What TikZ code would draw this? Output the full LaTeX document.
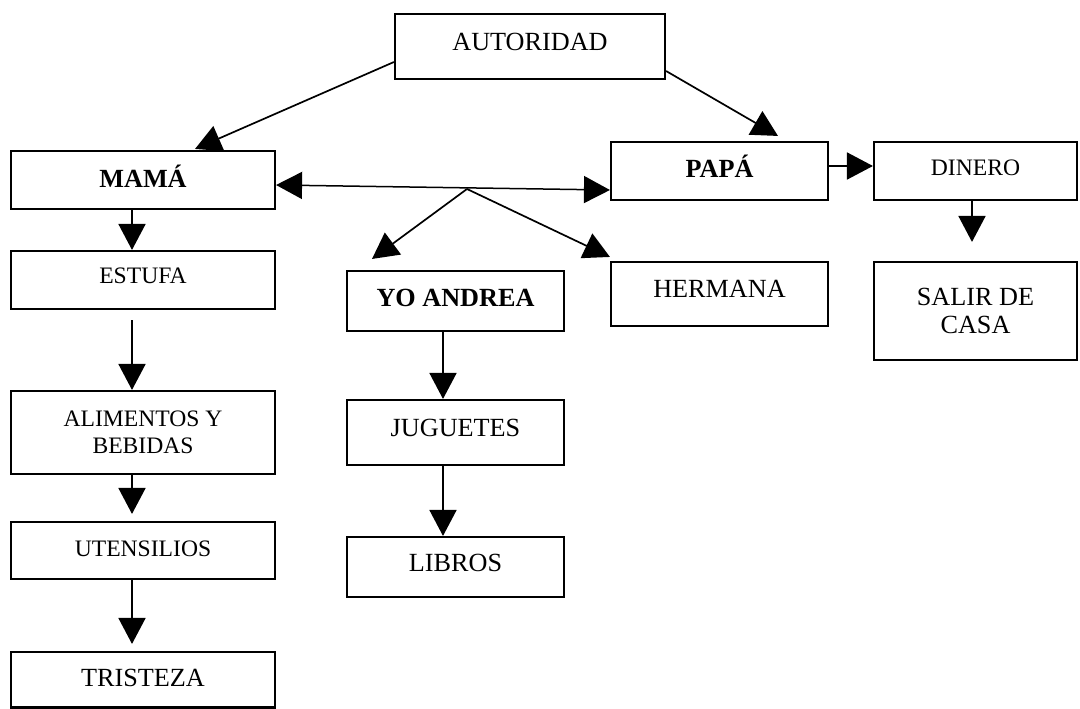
\documentclass[tikz,border=0pt]{standalone}
\usepackage{fontspec}
\setmainfont{Liberation Serif}
\usetikzlibrary{arrows.meta}
\tikzset{
  box/.style={draw, line width=2.1pt, inner sep=0pt},
  big/.style={font=\fontsize{26.2}{28.5}\selectfont},
  bigb/.style={font=\fontsize{26.2}{28.5}\selectfont\bfseries},
  small/.style={font=\fontsize{23.6}{27}\selectfont},
  lift/.style={text height=#1, text depth=10pt},
  arr/.style={line width=1.7pt, -{Triangle[length=26pt,width=27pt]}},
  dbl/.style={line width=1.5pt, {Triangle[length=26pt,width=27pt]}-{Triangle[length=26pt,width=27pt]}},
  wideL/.style={minimum width=264pt},
  wideM/.style={minimum width=217pt},
  wideR/.style={minimum width=203pt}
}
\begin{document}
\begin{tikzpicture}[x=1pt,y=-1pt]
\useasboundingbox (0,0) rectangle (1080,709);

% nodes
\node[box,big,lift=17.3pt,minimum width=270pt,minimum height=65pt] (aut) at (530,46.5) {AUTORIDAD};
\node[box,bigb,lift=25.3pt,wideL,minimum height=58pt] (mama) at (143,180) {MAMÁ};
\node[box,bigb,lift=23.3pt,wideM,minimum height=58pt] (papa) at (719.5,171) {PAPÁ};
\node[box,small,lift=18.6pt,wideR,minimum height=58pt] (dinero) at (975.5,171) {DINERO};
\node[box,small,lift=16.6pt,wideL,minimum height=58pt] (estufa) at (143,280) {ESTUFA};
\node[box,bigb,lift=20.3pt,wideM,minimum height=60pt] (yo) at (455.5,301) {YO ANDREA};
\node[box,big,lift=17.3pt,wideM,minimum height=64pt] (hermana) at (719.5,294) {HERMANA};
\node[box,big,align=center,wideR,minimum height=98pt] (salir) at (975.5,311) {SALIR DE\\[-1pt]CASA};
\node[box,small,align=center,wideL,minimum height=83pt] (alim) at (143,432.5) {ALIMENTOS Y\\BEBIDAS};
\node[box,big,lift=17.3pt,wideM,minimum height=65pt] (jug) at (455.5,432.5) {JUGUETES};
\node[box,small,lift=21.6pt,wideL,minimum height=57pt] (uten) at (143,550.5) {UTENSILIOS};
\node[box,big,lift=18.3pt,wideM,minimum height=60pt] (libros) at (455.5,567) {LIBROS};
\node[box,big,lift=22.8pt,wideL,minimum height=55.5pt] (tris) at (143,679.75) {TRISTEZA};

% connectors
\draw[arr] ([yshift=-15.5pt]aut.west) -- ([xshift=52pt,yshift=1pt]mama.north);
\draw[arr] ([yshift=-24.5pt]aut.east) -- ([xshift=58.5pt,yshift=5pt]papa.north);
\draw[dbl] ([yshift=-5pt]mama.east) -- ([yshift=-19pt]papa.west);
\coordinate (br) at (467,189);
\draw[arr] (br) -- ([xshift=-83.5pt,yshift=11pt]yo.north);
\draw[arr] (br) -- ([yshift=4pt]hermana.north west);
\draw[arr] ([yshift=5pt]papa.east) -- ([yshift=5pt]dinero.west);
\draw[arr] ([xshift=-3.5pt]dinero.south) -- ([xshift=-3.5pt,yshift=19pt]salir.north);
\draw[arr] ([xshift=-11pt]mama.south) -- ([xshift=-11pt]estufa.north);
\draw[arr, shorten <=10pt] ([xshift=-11pt]estufa.south) -- ([xshift=-11pt]alim.north);
\draw[arr] ([xshift=-11pt]alim.south) -- ([xshift=-11pt,yshift=7pt]uten.north);
\draw[arr] ([xshift=-11pt]uten.south) -- ([xshift=-11pt,yshift=7pt]tris.north);
\draw[arr] ([xshift=-12.5pt]yo.south) -- ([xshift=-12.5pt]jug.north);
\draw[arr] ([xshift=-12.5pt]jug.south) -- ([xshift=-12.5pt]libros.north);
\end{tikzpicture}
\end{document}
